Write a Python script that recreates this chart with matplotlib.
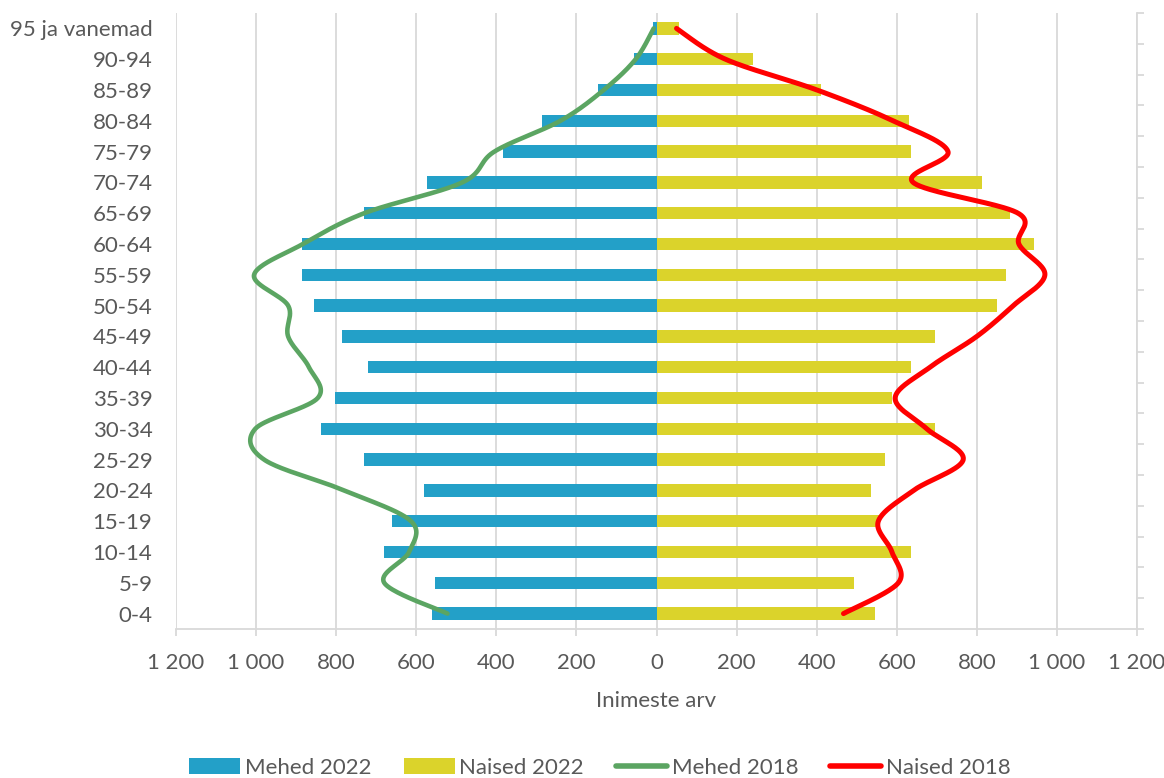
import numpy as np
import matplotlib
matplotlib.use("Agg")
import matplotlib.pyplot as plt
from matplotlib.lines import Line2D
from matplotlib.patches import Patch

vanus = ["0-4", "5-9", "10-14", "15-19", "20-24", "25-29", "30-34", "35-39",
         "40-44", "45-49", "50-54", "55-59", "60-64", "65-69", "70-74",
         "75-79", "80-84", "85-89", "90-94", "95 ja vanemad"]

mehed_2022 = [560, 552, 680, 660, 580, 730, 838, 802, 720, 785,
              855, 885, 885, 730, 572, 383, 287, 145, 55, 8]
naised_2022 = [546, 492, 635, 558, 536, 570, 696, 589, 635, 695,
               850, 873, 943, 883, 812, 635, 631, 412, 242, 55]
mehed_2018 = [522, 680, 618, 613, 780, 980, 1002, 846, 868, 920,
              920, 1005, 883, 730, 485, 405, 240, 132, 52, 7]
naised_2018 = [467, 604, 588, 554, 642, 766, 675, 596, 683, 800,
               891, 970, 905, 903, 641, 728, 591, 401, 172, 50]

SININE = "#23A0C8"
KOLLANE = "#DBD32B"
ROHELINE = "#5BA562"
PUNANE = "#FF0000"
HALL = "#595959"
JOON = "#D9D9D9"


def silu(x, y, n=40):
    # Exceli silutud joon ~ Catmull-Rom (Bezier kontrollpunktid 1/6)
    p = np.column_stack([x, y]).astype(float)
    p = np.vstack([p[0], p, p[-1]])
    out = []
    t = np.linspace(0, 1, n)[:, None]
    for i in range(1, len(p) - 2):
        p0, p1, p2, p3 = p[i - 1], p[i], p[i + 1], p[i + 2]
        b1 = p1 + (p2 - p0) / 6
        b2 = p2 - (p3 - p1) / 6
        seg = ((1 - t) ** 3) * p1 + 3 * ((1 - t) ** 2) * t * b1 + 3 * (1 - t) * t ** 2 * b2 + t ** 3 * p2
        out.append(seg)
    out = np.vstack(out)
    return out[:, 0], out[:, 1]


def fmt(v, pos=None):
    return f"{abs(int(v)):,}".replace(",", " ")


plt.rcParams["font.family"] = ["Lato", "DejaVu Sans"]
FS = 16
fig = plt.figure(figsize=(11.64, 7.78), dpi=100)
ax = fig.add_axes([176 / 1164, 1 - 629 / 778, (1137 - 176) / 1164, 616 / 778])

y = np.arange(len(vanus))
ax.barh(y, [-v for v in mehed_2022], height=0.4, color=SININE, zorder=2)
ax.barh(y, naised_2022, height=0.4, color=KOLLANE, zorder=2)

gx, gy = silu([-v for v in mehed_2018], y)
ax.plot(gx, gy, color=ROHELINE, lw=3.3, solid_capstyle="round", zorder=3)
rx, ry = silu(naised_2018, y)
ax.plot(rx, ry, color=PUNANE, lw=3.6, solid_capstyle="round", zorder=3)

ax.set_xlim(-1200, 1200)
ax.set_ylim(-0.5, len(vanus) - 0.5)
ax.set_xticks(np.arange(-1200, 1201, 200))
ax.xaxis.set_major_formatter(plt.FuncFormatter(fmt))
ax.set_yticks(y)
ax.set_yticklabels(vanus)
ax.grid(axis="x", color=JOON, lw=1.3, zorder=0)
ax.set_axisbelow(True)
for s in ["top", "left", "right"]:
    ax.spines[s].set_visible(False)
ax.spines["bottom"].set_color(JOON)
ax.spines["bottom"].set_linewidth(1.3)
ax.tick_params(axis="x", colors=JOON, length=5, width=1.3, pad=12,
               labelcolor=HALL, labelsize=FS)
ax.tick_params(axis="y", length=0, pad=17, labelcolor=HALL, labelsize=FS)
ax.set_xlabel("Inimeste arv", color=HALL, fontsize=FS, labelpad=13)

# parem telg (tühi, ainult jaotised)
ax2 = ax.twinx()
ax2.set_ylim(ax.get_ylim())
ax2.set_yticks(np.arange(-0.5, len(vanus), 1))
ax2.set_yticklabels([])
for s in ["top", "left", "bottom"]:
    ax2.spines[s].set_visible(False)
ax2.spines["right"].set_color(JOON)
ax2.spines["right"].set_linewidth(1.3)
ax2.tick_params(axis="y", colors=JOON, length=5, width=1.3)

handles = [
    Patch(facecolor=SININE, label="Mehed 2022"),
    Patch(facecolor=KOLLANE, label="Naised 2022"),
    Line2D([], [], color=ROHELINE, lw=4, solid_capstyle="round", label="Mehed 2018"),
    Line2D([], [], color=PUNANE, lw=4, solid_capstyle="round", label="Naised 2018"),
]
leg = fig.legend(handles=handles, loc="center", bbox_to_anchor=(600 / 1164, 1 - 768 / 778),
                 ncol=4, frameon=False, fontsize=FS, handlelength=2.3,
                 handleheight=0.7, handletextpad=0.2, columnspacing=1.45,
                 borderaxespad=0, borderpad=0)
for t in leg.get_texts():
    t.set_color(HALL)

fig.savefig("out.png", dpi=100)
